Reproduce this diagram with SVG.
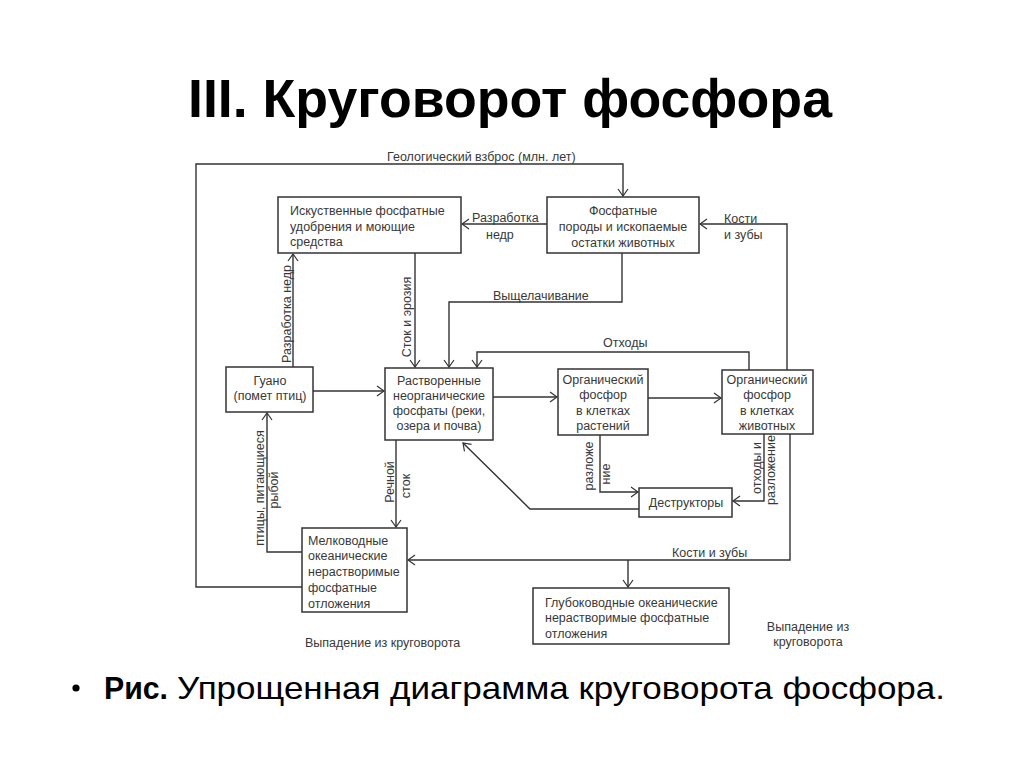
<svg xmlns="http://www.w3.org/2000/svg" width="1024" height="767" viewBox="0 0 1024 767">
<style>
.t{font-family:"Liberation Sans",Arial,sans-serif;font-size:12.5px;fill:#383838}
.c{text-anchor:middle}
.box{fill:#fff;stroke:#333;stroke-width:1.5}
.ln{fill:none;stroke:#333;stroke-width:1.4}
.title{font-family:"Liberation Sans",Arial,sans-serif;font-weight:bold;font-size:53px;fill:#000}
.cap{font-family:"Liberation Sans",Arial,sans-serif;font-size:32px;fill:#000}
</style>
<defs>
<marker id="a" viewBox="-9 -6 10 12" refX="0" refY="0" markerWidth="10" markerHeight="12" markerUnits="userSpaceOnUse" orient="auto">
<path d="M-7,-5 L0,0 L-7,5" fill="none" stroke="#333" stroke-width="1.2"/>
</marker>
</defs>
<rect width="1024" height="767" fill="#fff"/>
<text class="title" x="188" y="117" textLength="644" lengthAdjust="spacingAndGlyphs">III. Круговорот фосфора</text>

<g id="connectors">
<path class="ln" d="M302,587 H196 V164 H623 V196" marker-end="url(#a)"/>
<path class="ln" d="M547,224 H462" marker-end="url(#a)"/>
<path class="ln" d="M787,370 V224 H700" marker-end="url(#a)"/>
<path class="ln" d="M622,253 V302 H449 V367" marker-end="url(#a)"/>
<path class="ln" d="M415,253 V367" marker-end="url(#a)"/>
<path class="ln" d="M293,367 V254" marker-end="url(#a)"/>
<path class="ln" d="M313,391 H384" marker-end="url(#a)"/>
<path class="ln" d="M749,370 V352 H477 V367" marker-end="url(#a)"/>
<path class="ln" d="M493,397 H557" marker-end="url(#a)"/>
<path class="ln" d="M648,398 H721" marker-end="url(#a)"/>
<path class="ln" d="M600,435 V492 H638" marker-end="url(#a)"/>
<path class="ln" d="M764,434 V501 H733" marker-end="url(#a)"/>
<path class="ln" d="M639,509 H530 L463,443" marker-end="url(#a)"/>
<path class="ln" d="M396,440 V527" marker-end="url(#a)"/>
<path class="ln" d="M302,552 H267 V413" marker-end="url(#a)"/>
<path class="ln" d="M790,434 V560 H408" marker-end="url(#a)"/>
<path class="ln" d="M628,560 V587" marker-end="url(#a)"/>
<text class="t" x="387" y="161">Геологический взброс (млн. лет)</text>
<text class="t" x="472" y="222">Разработка</text>
<text class="t" x="486" y="239">недр</text>
<text class="t" x="724" y="223">Кости</text>
<text class="t" x="724" y="239">и зубы</text>
<text class="t" x="493" y="300">Выщелачивание</text>
<text class="t" x="603" y="347">Отходы</text>
<text class="t c" transform="translate(291,314) rotate(-90)">Разработка недр</text>
<text class="t c" transform="translate(411,317) rotate(-90)">Сток и эрозия</text>
<text class="t c" transform="translate(264,488) rotate(-90)">птицы, питающиеся</text>
<text class="t c" transform="translate(278,490) rotate(-90)">рыбой</text>
<text class="t c" transform="translate(394,482) rotate(-90)">Речной</text>
<text class="t c" transform="translate(410,486) rotate(-90)">сток</text>
<text class="t c" transform="translate(593,466) rotate(-90)">разложе</text>
<text class="t c" transform="translate(610,474) rotate(-90)">ние</text>
<text class="t c" transform="translate(761,468) rotate(-90)">отходы и</text>
<text class="t c" transform="translate(775,470) rotate(-90)">разложение</text>
<text class="t" x="672" y="557">Кости и зубы</text>
</g>

<g id="n-udobr">
<rect class="box" x="278" y="197" width="183" height="56"/>
<text class="t" x="290" y="215">Искуственные фосфатные</text>
<text class="t" x="290" y="230.5">удобрения и моющие</text>
<text class="t" x="290" y="246">средства</text>
</g>
<g id="n-porody">
<rect class="box" x="547" y="197" width="152" height="56"/>
<text class="t c" x="623" y="214.5">Фосфатные</text>
<text class="t c" x="623" y="230.5">породы и ископаемые</text>
<text class="t c" x="623" y="246.5">остатки животных</text>
</g>
<g id="n-guano">
<rect class="box" x="226" y="367" width="87" height="45"/>
<text class="t c" x="270" y="384.5">Гуано</text>
<text class="t c" x="270" y="399.5">(помет птиц)</text>
</g>
<g id="n-rastvor">
<rect class="box" x="385" y="368" width="108" height="72"/>
<text class="t c" x="439" y="384.5">Растворенные</text>
<text class="t c" x="439" y="399.5">неорганические</text>
<text class="t c" x="439" y="414.5">фосфаты (реки,</text>
<text class="t c" x="439" y="429.5">озера и почва)</text>
</g>
<g id="n-rasteniya">
<rect class="box" x="558" y="369" width="90" height="66"/>
<text class="t c" x="603" y="383.5">Органический</text>
<text class="t c" x="603" y="399">фосфор</text>
<text class="t c" x="603" y="414.5">в клетках</text>
<text class="t c" x="603" y="429.5">растений</text>
</g>
<g id="n-zhivotnye">
<rect class="box" x="722" y="370" width="91" height="64"/>
<text class="t c" x="767" y="383.5">Органический</text>
<text class="t c" x="767" y="399">фосфор</text>
<text class="t c" x="767" y="414.5">в клетках</text>
<text class="t c" x="767" y="429.5">животных</text>
</g>
<g id="n-destruktory">
<rect class="box" x="639" y="488" width="93" height="29"/>
<text class="t c" x="686" y="507">Деструкторы</text>
</g>
<g id="n-melkovodnye">
<rect class="box" x="302" y="528" width="105" height="84"/>
<text class="t" x="308" y="544.5">Мелководные</text>
<text class="t" x="308" y="559.5">океанические</text>
<text class="t" x="308" y="575.5">нерастворимые</text>
<text class="t" x="308" y="591.5">фосфатные</text>
<text class="t" x="308" y="607.5">отложения</text>
</g>
<g id="n-glubokovodnye">
<rect class="box" x="533" y="588" width="196" height="56"/>
<text class="t" x="545" y="606.5">Глубоководные океанические</text>
<text class="t" x="545" y="621.5">нерастворимые фосфатные</text>
<text class="t" x="545" y="637.5">отложения</text>
</g>
<g id="labels">
<text class="t" x="305" y="647">Выпадение из круговорота</text>
<text class="t c" x="808" y="631">Выпадение из</text>
<text class="t c" x="808" y="646">круговорота</text>
</g>

<circle cx="76" cy="688" r="3.6" fill="#000"/>
<text class="cap" x="104" y="699" font-weight="bold" textLength="64" lengthAdjust="spacingAndGlyphs">Рис.</text>
<text class="cap" x="177" y="699" textLength="768" lengthAdjust="spacingAndGlyphs">Упрощенная диаграмма круговорота фосфора.</text>
</svg>
